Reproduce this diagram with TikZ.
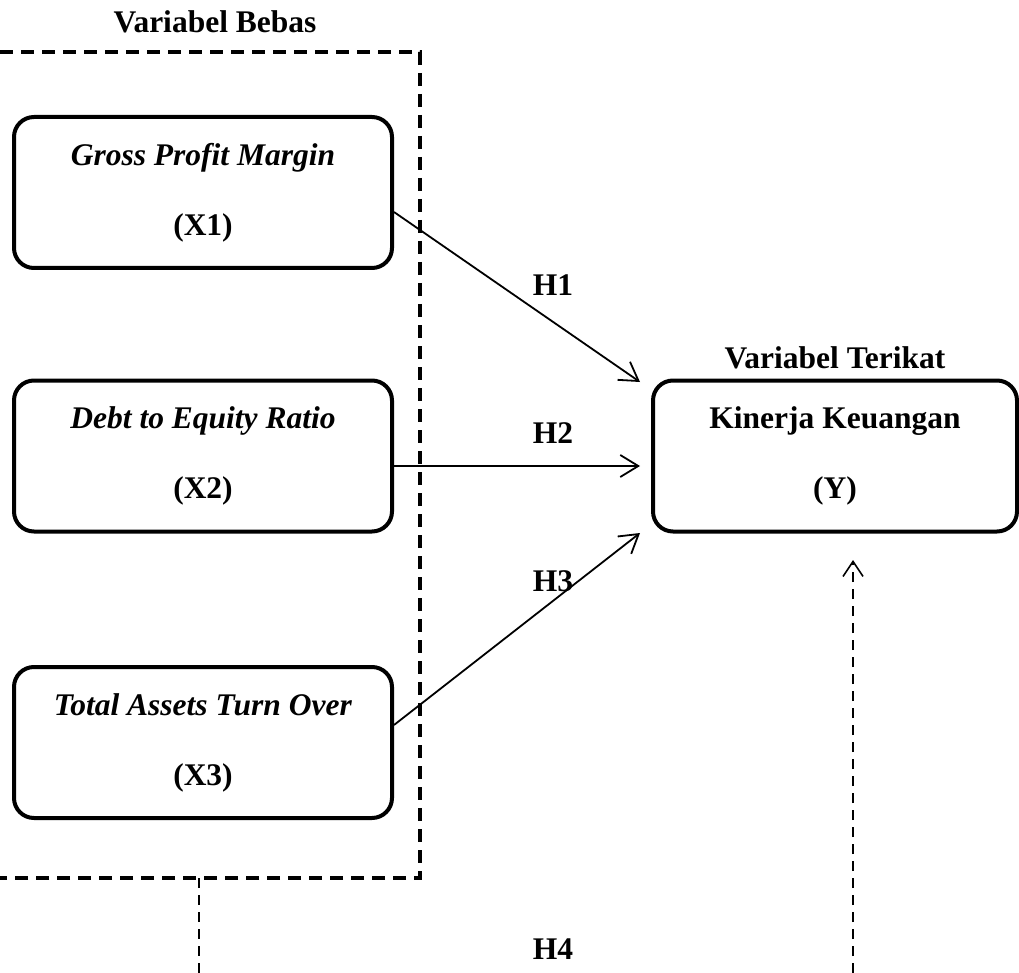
\documentclass[tikz,border=0pt]{standalone}
\usepackage{fontspec}
\setmainfont{Liberation Serif}
\usetikzlibrary{arrows.meta}
\begin{document}
\begin{tikzpicture}[x=1pt,y=-1pt,
  varbox/.style={draw, line width=4pt, rounded corners=20pt, minimum height=151pt,
    inner sep=0pt, align=center, font=\fontsize{31.5}{70}\selectfont\bfseries},
  lbl/.style={font=\fontsize{31.5}{38}\selectfont\bfseries, anchor=base, inner sep=0pt},
  hyp/.style={line width=1.8pt, -{Straight Barb[length=18pt,width=22pt]}},
  groupborder/.style={line width=3.8pt, dash pattern=on 13pt off 8pt},
  thindash/.style={line width=1.6pt, dash pattern=on 10pt off 7pt}
]
\useasboundingbox (0,0) rectangle (1019,973);

% titles
\node[lbl] (tbebas) at (215,32.5) {Variabel Bebas};
\node[lbl] (tterikat) at (835,368.5) {Variabel Terikat};

% independent variables group border
\coordinate (g1) at (0,52);
\coordinate (g2) at (420,52);
\coordinate (g3) at (420,878);
\coordinate (g4) at (0,878);
\draw[groupborder] (g1) -- (g2) -- (g3) -- (g4);

% boxes
\node[varbox, minimum width=378pt] (x1) at (203,192.5) {\textit{Gross Profit Margin}\\(X1)};
\node[varbox, minimum width=378pt] (x2) at (203,456) {\textit{Debt to Equity Ratio}\\(X2)};
\node[varbox, minimum width=378pt] (x3) at (203,742.5) {\textit{Total Assets Turn Over}\\(X3)};
\node[varbox, minimum width=364pt] (y) at (835,456) {Kinerja Keuangan\\(Y)};

% arrow ends
\coordinate (t1) at (640,382);
\coordinate (t2) at (640,466);
\coordinate (t3) at (640,533);
\draw[hyp] ([yshift=-19.5pt]x1.east) -- (t1);
\draw[hyp] ([yshift=-10pt]x2.east) -- (t2);
\draw[hyp] ([yshift=17.5pt]x3.east) -- (t3);

% hypothesis labels
\node[lbl] (h1) at (553,296) {H1};
\node[lbl] (h2) at (553,443) {H2};
\node[lbl] (h3) at (553,591) {H3};
\node[lbl] (h4) at (553,959) {H4};

% H4 dashed connectors
\coordinate (b1) at (199,973);
\coordinate (b4) at (853,973);
\coordinate (t4) at (853,560);
\draw[thindash] (199,878) -- (b1);
\draw[thindash, -{Straight Barb[length=15pt,width=20pt]}] (b4) -- (t4);
\end{tikzpicture}
\end{document}
